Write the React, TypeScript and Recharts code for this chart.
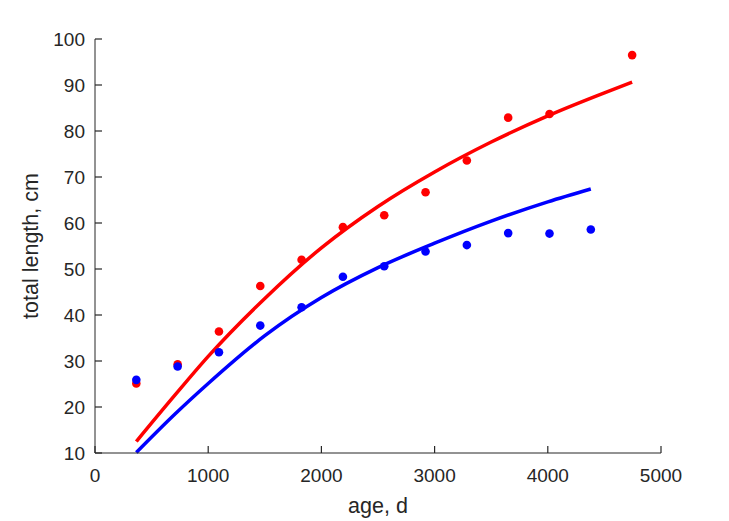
import { ComposedChart, Line, Scatter, XAxis, YAxis } from 'recharts'

// measured lengths by age (days)
const redAges = [365, 730, 1095, 1460, 1825, 2190, 2555, 2920, 3285, 3650, 4015, 4745]
const redLengths = [25.1, 29.3, 36.4, 46.3, 52.0, 59.1, 61.7, 66.7, 73.6, 82.9, 83.7, 96.5]
const blueAges = [365, 730, 1095, 1460, 1825, 2190, 2555, 2920, 3285, 3650, 4015, 4380]
const blueLengths = [25.9, 28.8, 31.9, 37.7, 41.7, 48.3, 50.6, 53.8, 55.2, 57.8, 57.7, 58.6]

// fitted growth curves
const redFitAges = [365, 700, 1000, 1500, 2000, 2500, 3000, 3500, 4000, 4500, 4745]
const redFitLengths = [12.5, 22.4, 31.0, 43.6, 54.6, 63.6, 71.1, 77.6, 83.3, 88.3, 90.6]
const blueFitAges = [365, 700, 1000, 1500, 2000, 2500, 3000, 3500, 4000, 4380]
const blueFitLengths = [10.1, 18.3, 25.1, 35.5, 43.8, 50.3, 55.6, 60.4, 64.6, 67.4]

const xTicks = [0, 1000, 2000, 3000, 4000, 5000]
const yTicks = [10, 20, 30, 40, 50, 60, 70, 80, 90, 100]

const RED = '#ff0000'
const BLUE = '#0000ff'
const INK = '#262626'
const FONT = '"Liberation Sans", Arial, sans-serif'

const zip = (xs: number[], ys: number[]) => xs.map((age, i) => ({ age, len: ys[i] }))

const redPts = zip(redAges, redLengths)
const bluePts = zip(blueAges, blueLengths)
const redFit = zip(redFitAges, redFitLengths)
const blueFit = zip(blueFitAges, blueFitLengths)

// inward tick marks drawn here together with the label
function XTick({ x, y, payload }: any) {
  return (
    <g>
      <path d={`M${x},${y}L${x},${y - 7}`} stroke={INK} strokeWidth={1.2} fill="none" />
      <text x={x} y={y + 28.5} textAnchor="middle" fontSize={19} fill={INK} stroke="none" fontFamily={FONT}>
        {payload.value}
      </text>
    </g>
  )
}

function YTick({ x, y, payload }: any) {
  return (
    <g>
      <path d={`M${x},${y}L${x + 7},${y}`} stroke={INK} strokeWidth={1.2} fill="none" />
      <text x={x - 10} y={y + 6.8} textAnchor="end" fontSize={19} fill={INK} stroke="none" fontFamily={FONT}>
        {payload.value}
      </text>
    </g>
  )
}

const dot = (color: string) => (p: any) => <circle cx={p.cx} cy={p.cy} r={4.3} fill={color} />

export default function App() {
  return (
    <div style={{ position: 'absolute', left: 0, top: 0, background: '#fff' }}>
      <ComposedChart width={729} height={521} margin={{ top: 39, right: 68, left: 0, bottom: 0 }}>
        <XAxis
          dataKey="age"
          type="number"
          domain={[0, 5000]}
          ticks={xTicks}
          height={68}
          tickSize={0}
          tickMargin={0}
          tickLine={false}
          tick={<XTick />}
          axisLine={{ stroke: INK }}
          label={{
            content: (p: any) => {
              const vb = p.viewBox
              return (
                <text x={vb.x + vb.width / 2} y={vb.y + 60} textAnchor="middle" fontSize={21.5} fill={INK} fontFamily={FONT}>
                  age, d
                </text>
              )
            },
          }}
        />
        <YAxis
          dataKey="len"
          type="number"
          domain={[10, 100]}
          ticks={yTicks}
          width={95}
          tickSize={0}
          tickMargin={0}
          tickLine={false}
          tick={<YTick />}
          axisLine={{ stroke: INK }}
          label={{
            content: (p: any) => {
              const vb = p.viewBox
              const cx = vb.x + 38
              const cy = vb.y + vb.height / 2
              return (
                <text x={cx} y={cy} transform={`rotate(-90 ${cx} ${cy})`} textAnchor="middle" fontSize={21.5} fill={INK} fontFamily={FONT}>
                  total length, cm
                </text>
              )
            },
          }}
        />
        <Scatter data={redPts} dataKey="len" fill={RED} shape={dot(RED)} isAnimationActive={false} />
        <Scatter data={bluePts} dataKey="len" fill={BLUE} shape={dot(BLUE)} isAnimationActive={false} />
        <Line data={redFit} dataKey="len" type="monotone" stroke={RED} strokeWidth={3.5} dot={false} activeDot={false} isAnimationActive={false} />
        <Line data={blueFit} dataKey="len" type="monotone" stroke={BLUE} strokeWidth={3.5} dot={false} activeDot={false} isAnimationActive={false} />
      </ComposedChart>
    </div>
  )
}
